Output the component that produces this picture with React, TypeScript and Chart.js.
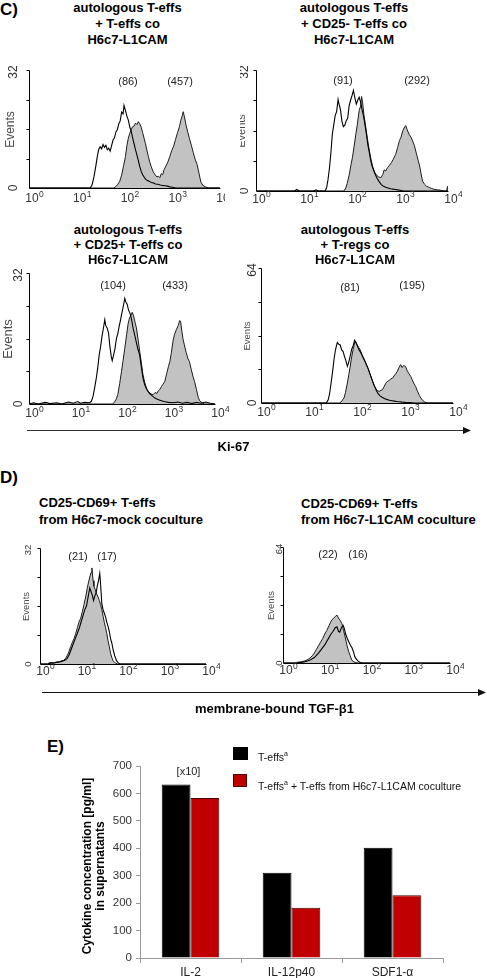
import React, { useEffect, useRef } from "react";
import { Chart, registerables } from "chart.js";

Chart.register(...registerables);

const FONT = "'Liberation Sans', Arial, Helvetica, sans-serif";
Chart.defaults.font.family = FONT;

type Pt = [number, number];

// ---------------- DATA ----------------
// Flow histograms: [log10 fluorescence (decade), events]
const DECADE_TICKS = [0, 1, 2, 3, 4];

const C1_OPEN: Pt[] = [[0,0],[1.28,0],[1.32,0.8],[1.36,3],[1.40,6],[1.43,8.5],[1.46,10.5],[1.49,11.2],[1.52,10.6],[1.55,11.8],[1.58,11],[1.61,11.6],[1.64,10.4],[1.67,10.8],[1.70,10],[1.73,11.5],[1.76,13],[1.79,13.6],[1.82,15.2],[1.85,15.8],[1.88,17.4],[1.91,18.2],[1.94,20.6],[1.97,20.1],[1.99,22.4],[2.02,21],[2.05,19.5],[2.08,18.4],[2.11,16.6],[2.14,15.4],[2.17,13.6],[2.20,12],[2.23,10.4],[2.26,9],[2.29,7.4],[2.32,5.8],[2.35,4.5],[2.38,3.6],[2.41,3],[2.44,2.4],[2.48,2],[2.52,1.8],[2.56,1.5],[2.60,1.4],[2.65,1.1],[2.70,1],[2.75,0.8],[2.80,0.7],[2.85,0.6],[2.90,0.5],[2.95,0.3],[3.0,0.2],[3.08,0],[4,0]];
const C1_FILLED: Pt[] = [[0,0],[1.78,0],[1.82,0.4],[1.86,1],[1.90,1.8],[1.94,3.5],[1.98,6],[2.02,8.5],[2.05,11.5],[2.08,13.5],[2.11,14.8],[2.14,15.8],[2.17,16.6],[2.20,16.8],[2.23,17.6],[2.26,17.2],[2.29,18],[2.32,17.4],[2.35,16.5],[2.38,15],[2.41,13.5],[2.44,12],[2.47,10.2],[2.50,8.5],[2.53,7],[2.56,5.8],[2.60,4.4],[2.64,3.6],[2.68,3],[2.71,3.2],[2.74,2.8],[2.77,3.9],[2.80,3.6],[2.83,5],[2.87,6],[2.91,7.1],[2.95,8.6],[2.99,10.2],[3.03,11.4],[3.07,13.2],[3.11,15],[3.15,16.6],[3.18,18.4],[3.21,19.6],[3.23,20.7],[3.26,19],[3.29,17],[3.32,15.4],[3.36,13.4],[3.40,11.6],[3.44,9.6],[3.48,7.8],[3.52,6.4],[3.56,4],[3.60,1.6],[3.64,0.7],[3.70,0.3],[3.76,0],[4,0]];

const C2_OPEN: Pt[] = [[0,0],[0.8,0],[0.85,0.4],[0.9,0],[1.2,0],[1.25,0.3],[1.3,0],[1.44,0],[1.47,0.8],[1.50,3],[1.53,6],[1.56,10],[1.59,15],[1.62,17.5],[1.65,20],[1.68,21],[1.71,24.2],[1.73,23],[1.76,21.5],[1.79,18.5],[1.82,17],[1.85,17.4],[1.88,18.6],[1.91,19.2],[1.94,22.5],[1.97,24],[2.00,25.2],[2.03,26.6],[2.06,24.6],[2.09,23],[2.12,24],[2.15,24.8],[2.18,23.5],[2.21,21.5],[2.24,19.8],[2.27,17.5],[2.30,15],[2.33,12.2],[2.36,10.3],[2.39,8],[2.42,6.5],[2.45,5.5],[2.49,4.2],[2.53,3.2],[2.57,2.4],[2.61,1.7],[2.65,1.3],[2.70,1],[2.75,0.8],[2.80,0.6],[2.85,0.5],[2.90,0.4],[2.95,0.3],[3.0,0.2],[3.08,0],[4,0]];
const C2_FILLED: Pt[] = [[0,0],[1.83,0],[1.87,0.8],[1.90,2],[1.94,4.2],[1.98,7],[2.01,8.9],[2.04,11.5],[2.08,15],[2.11,17.5],[2.15,21.3],[2.18,22.5],[2.20,25],[2.22,23.5],[2.25,20],[2.28,17.5],[2.32,14],[2.35,11.5],[2.39,8.7],[2.43,6.5],[2.47,5],[2.51,4.2],[2.55,3.8],[2.60,3.5],[2.64,4.3],[2.67,5.6],[2.70,5.3],[2.74,6.2],[2.78,6.8],[2.82,7.5],[2.86,8.4],[2.91,9.7],[2.95,11.5],[2.99,13.4],[3.02,14.2],[3.06,16],[3.10,17],[3.12,17.3],[3.15,16.2],[3.19,15],[3.23,14.2],[3.27,13],[3.30,12],[3.34,10],[3.38,8],[3.41,6.6],[3.44,4.5],[3.47,2.6],[3.51,1.8],[3.55,1.3],[3.60,1],[3.65,0.7],[3.70,0.5],[3.78,0.3],[3.85,0.2],[3.92,0],[3.97,0],[3.99,1.2],[4,0]];

const C3_OPEN: Pt[] = [[0,0],[0.1,0.3],[0.2,0],[0.35,0.4],[0.45,0.1],[0.6,0.3],[0.7,0],[0.85,0.5],[0.95,0.2],[1.05,0.6],[1.1,0.2],[1.2,0.4],[1.3,0.3],[1.34,0.6],[1.38,2],[1.42,4.5],[1.45,6.5],[1.48,9],[1.51,12],[1.54,14],[1.57,16.5],[1.60,18.5],[1.63,20.6],[1.65,19.2],[1.68,18.6],[1.71,17.4],[1.74,14],[1.77,11.5],[1.79,10.6],[1.82,12],[1.85,13.6],[1.88,16],[1.91,17.2],[1.94,19],[1.97,20.6],[2.00,22.4],[2.03,24],[2.06,25.8],[2.08,25],[2.11,24.4],[2.14,23],[2.17,22.2],[2.20,21],[2.24,18.4],[2.27,17],[2.30,15.5],[2.34,13.5],[2.38,12],[2.41,9.5],[2.45,6.4],[2.49,4.6],[2.53,3.6],[2.56,3.1],[2.60,2.5],[2.65,2],[2.70,1.5],[2.75,1.2],[2.80,1],[2.85,0.8],[2.90,0.6],[2.95,0.5],[3.0,0.4],[3.1,0.3],[3.2,0.5],[3.3,0.2],[3.4,0.4],[3.5,0.1],[3.6,0.4],[3.7,0.2],[3.8,0.5],[3.9,0.2],[4,0]];
const C3_FILLED: Pt[] = [[0,0],[1.80,0],[1.84,0.5],[1.88,1.3],[1.91,2.3],[1.95,5],[1.99,8],[2.02,10.4],[2.06,13.6],[2.10,17],[2.13,19.5],[2.16,21],[2.19,21.6],[2.22,22.4],[2.25,21.5],[2.28,20],[2.31,18.6],[2.35,15.5],[2.38,12.9],[2.42,9.8],[2.45,7.2],[2.49,5.2],[2.53,3.8],[2.56,3.1],[2.60,2.6],[2.64,2.4],[2.67,2.3],[2.71,2.8],[2.75,2.6],[2.78,3.2],[2.81,3.5],[2.85,4.3],[2.88,4.8],[2.92,5.5],[2.96,7.4],[3.00,9.2],[3.03,10.4],[3.06,12.4],[3.10,15.6],[3.13,17],[3.17,18.2],[3.21,19.2],[3.24,20.4],[3.26,20.2],[3.29,17.6],[3.31,16],[3.34,14.5],[3.38,12.6],[3.42,11],[3.45,10.4],[3.49,8.4],[3.53,6.6],[3.56,5.5],[3.60,3.6],[3.64,1.6],[3.67,0.8],[3.72,0.3],[3.78,0],[4,0]];

const C4_OPEN: Pt[] = [[0,0],[1.36,0],[1.40,1.5],[1.43,4.5],[1.46,9.5],[1.49,14.5],[1.52,20.5],[1.55,25],[1.57,27],[1.59,28.7],[1.62,27.8],[1.65,27.5],[1.68,25.2],[1.71,24.5],[1.74,22],[1.77,20],[1.80,17.4],[1.83,19.5],[1.86,22.5],[1.89,25.5],[1.92,27.2],[1.95,29.7],[1.98,28.4],[2.01,27],[2.04,25.3],[2.08,23.8],[2.12,21.8],[2.15,20.5],[2.19,18.5],[2.23,16.4],[2.26,14.4],[2.30,12],[2.33,10],[2.36,8.2],[2.40,6],[2.44,4.4],[2.48,3.4],[2.53,2.6],[2.58,2],[2.63,1.6],[2.68,1.3],[2.73,1.1],[2.78,0.9],[2.83,0.7],[2.88,0.6],[2.94,0.4],[3.0,0.3],[3.1,0.2],[3.2,0],[4,0]];
const C4_FILLED: Pt[] = [[0,0],[1.63,0],[1.67,0.5],[1.70,1.5],[1.73,2.4],[1.76,5],[1.80,9.5],[1.83,13.5],[1.86,17.5],[1.89,22],[1.92,25.5],[1.95,28.5],[1.97,29.2],[2.00,27.8],[2.03,26.5],[2.06,25.5],[2.10,23.2],[2.13,21.8],[2.16,20.2],[2.20,18],[2.23,16.4],[2.26,14.5],[2.30,11.8],[2.33,10],[2.36,8.2],[2.40,6.6],[2.43,5.8],[2.46,5.5],[2.50,6],[2.53,6.3],[2.57,8],[2.60,9.4],[2.63,10.2],[2.67,10.6],[2.70,11.4],[2.74,11.8],[2.77,12.8],[2.81,14],[2.84,15],[2.87,16.6],[2.91,18.2],[2.94,16.8],[2.97,17.8],[3.01,17.4],[3.04,15.6],[3.08,14],[3.12,12.6],[3.15,11],[3.19,9],[3.22,7.9],[3.26,5.6],[3.30,3.6],[3.33,2.4],[3.37,1.2],[3.41,0.5],[3.46,0],[4,0]];

const D1_OPEN: Pt[] = [[0,0],[0.2,0],[0.25,0.3],[0.32,0.2],[0.38,0.4],[0.44,0.5],[0.50,0.6],[0.55,0.8],[0.60,1],[0.65,1.5],[0.70,2.5],[0.75,4],[0.80,5.5],[0.85,7],[0.90,8.5],[0.95,10],[1.00,12],[1.04,13.5],[1.08,15],[1.12,16],[1.16,18.5],[1.20,21],[1.23,20],[1.26,19],[1.29,17.5],[1.32,18.8],[1.35,19.5],[1.38,21.5],[1.41,23],[1.44,25],[1.46,22],[1.49,16.5],[1.52,15],[1.55,14],[1.58,13],[1.61,11.5],[1.64,10.4],[1.67,9],[1.70,7],[1.73,5.8],[1.76,4],[1.80,2.3],[1.84,1],[1.88,0.4],[1.92,0],[4,0]];
const D1_FILLED: Pt[] = [[0,0],[0.18,0],[0.22,0.3],[0.28,0.4],[0.34,0.3],[0.40,0.6],[0.46,0.6],[0.52,0.9],[0.57,1],[0.62,1.6],[0.66,2.4],[0.70,3.5],[0.74,4.8],[0.78,6],[0.82,7],[0.86,8.4],[0.90,10],[0.94,11.6],[0.98,12.6],[1.02,14.4],[1.06,16.4],[1.10,18.5],[1.14,21],[1.17,22.6],[1.20,24],[1.23,25.2],[1.25,26.5],[1.28,23],[1.30,21.4],[1.33,20.6],[1.36,19.4],[1.40,18.5],[1.43,17.5],[1.46,16.4],[1.49,15],[1.52,13.2],[1.55,11.5],[1.58,10],[1.61,8.4],[1.64,6.4],[1.67,4.8],[1.70,3],[1.73,1.8],[1.76,0.9],[1.80,0.4],[1.86,0],[4,0]];

const D2_OPEN: Pt[] = [[0,0],[0.33,0],[0.38,0.2],[0.42,0.3],[0.46,0.5],[0.50,0.6],[0.55,0.9],[0.60,1.2],[0.65,1.6],[0.70,2.3],[0.75,3],[0.80,4.2],[0.85,5.5],[0.90,7],[0.95,8.5],[1.00,10],[1.05,12],[1.10,14],[1.15,16],[1.20,17.5],[1.25,19.5],[1.29,20],[1.33,17.5],[1.36,17],[1.40,19.5],[1.44,20.8],[1.47,19],[1.50,16],[1.54,13.5],[1.58,11.5],[1.62,9.5],[1.65,8.5],[1.69,6],[1.72,3.5],[1.76,2],[1.80,1],[1.85,0.3],[1.9,0],[4,0]];
const D2_FILLED: Pt[] = [[0,0],[0.28,0],[0.32,0.3],[0.38,0.5],[0.44,0.7],[0.50,1],[0.55,1.4],[0.60,2],[0.65,2.8],[0.70,4],[0.75,5.5],[0.80,7.5],[0.85,9.5],[0.90,11.5],[0.95,13.5],[1.00,16],[1.05,18],[1.10,20.5],[1.15,23],[1.20,24.5],[1.25,25.5],[1.29,26.5],[1.33,24.8],[1.37,23.5],[1.41,21.7],[1.45,18],[1.49,14.3],[1.53,10],[1.57,6.5],[1.61,4],[1.65,1.5],[1.70,0.6],[1.75,0.2],[1.8,0],[4,0]];

// Cytokine bar chart
const CYTOKINES = ["IL-2", "IL-12p40", "SDF1-\u03b1"];
const TEFFS = [633, 311, 402];
const TEFFS_COCULTURE = [583, 183, 229];
const CYTOKINE_TICKS = [0, 100, 200, 300, 400, 500, 600, 700];

// ---------------- LAYOUT ----------------
type HistSpec = {
  id: string;
  open: Pt[];
  filled: Pt[];
  yMax: number;
  x0: number; x1: number; yTop: number; y0: number;
  clipLeft?: number; clipRight?: number;
  numDx: number; numSize: number;
  evDx: number; evSize: number;
  labDy: number;
  title: string[]; titleX: number; titleYs: number[]; titleAlign: "center" | "left";
  notes: { t: string; x: number; y: number }[];
};

const HISTS: HistSpec[] = [
  { id: "c1", open: C1_OPEN, filled: C1_FILLED, yMax: 32, x0: 29, x1: 220, yTop: 70, y0: 188, clipRight: 225,
    numDx: -16, numSize: 12, evDx: -18.5, evSize: 12, labDy: 10,
    title: ["autologous T-effs", "+ T-effs co", "H6c7-L1CAM"], titleX: 127.5, titleYs: [7, 23, 38.5], titleAlign: "center",
    notes: [{ t: "(86)", x: 128, y: 81 }, { t: "(457)", x: 180, y: 81 }] },
  { id: "c2", open: C2_OPEN, filled: C2_FILLED, yMax: 32, x0: 256, x1: 448, yTop: 70, y0: 191, clipLeft: 240,
    numDx: -12, numSize: 12, evDx: -15, evSize: 11, labDy: 7.5,
    title: ["autologous T-effs", "+ CD25- T-effs co", "H6c7-L1CAM"], titleX: 354, titleYs: [7, 23, 38.5], titleAlign: "center",
    notes: [{ t: "(91)", x: 343, y: 80 }, { t: "(292)", x: 417, y: 80 }] },
  { id: "c3", open: C3_OPEN, filled: C3_FILLED, yMax: 32, x0: 29, x1: 215, yTop: 273, y0: 404,
    numDx: -11, numSize: 12, evDx: -21, evSize: 13, labDy: 9,
    title: ["autologous T-effs", "+ CD25+ T-effs co", "H6c7-L1CAM"], titleX: 128, titleYs: [229, 244, 259], titleAlign: "center",
    notes: [{ t: "(104)", x: 113, y: 285 }, { t: "(433)", x: 175, y: 285 }] },
  { id: "c4", open: C4_OPEN, filled: C4_FILLED, yMax: 64, x0: 261, x1: 453, yTop: 268, y0: 403, clipLeft: 240,
    numDx: -9, numSize: 12, evDx: -14, evSize: 9.5, labDy: 8.5,
    title: ["autologous T-effs", "+ T-regs co", "H6c7-L1CAM"], titleX: 355, titleYs: [229, 244, 259], titleAlign: "center",
    notes: [{ t: "(81)", x: 350, y: 287 }, { t: "(195)", x: 412, y: 285 }] },
  { id: "d1", open: D1_OPEN, filled: D1_FILLED, yMax: 32, x0: 40, x1: 206, yTop: 548, y0: 664,
    numDx: -12, numSize: 9.5, evDx: -14, evSize: 9.5, labDy: 6.5,
    title: ["CD25-CD69+ T-effs", "from H6c7-mock coculture"], titleX: 39, titleYs: [502, 519], titleAlign: "left",
    notes: [{ t: "(21)", x: 78, y: 556 }, { t: "(17)", x: 107, y: 556 }] },
  { id: "d2", open: D2_OPEN, filled: D2_FILLED, yMax: 64, x0: 283, x1: 450, yTop: 547, y0: 663,
    numDx: -4, numSize: 9.5, evDx: -12, evSize: 9.5, labDy: 7,
    title: ["CD25-CD69+ T-effs", "from H6c7-L1CAM coculture"], titleX: 301, titleYs: [503, 519], titleAlign: "left",
    notes: [{ t: "(22)", x: 328, y: 554 }, { t: "(16)", x: 358, y: 554 }] },
];

// ---------------- PLUGIN: CellQuest-style axes ----------------
const flowAxesPlugin = {
  id: "flowAxes",
  afterDatasetsDraw(chart: any, _args: any, o: any) {
    const ctx: CanvasRenderingContext2D = chart.ctx;
    const xs = chart.scales.x;
    const ys = chart.scales.y;
    const xL = Math.round(xs.getPixelForValue(0)) + 0.5;
    const xR = Math.round(xs.getPixelForValue(4)) + 0.5;
    const yB = Math.round(ys.getPixelForValue(0)) + 0.5;
    const yT = Math.round(ys.getPixelForValue(o.yMax)) + 0.5;
    ctx.save();
    ctx.strokeStyle = "#000";
    ctx.lineWidth = 1;
    ctx.beginPath();
    ctx.moveTo(xL, yT);
    ctx.lineTo(xL, yB);
    ctx.lineTo(xR, yB);
    for (const f of [0.25, 0.5, 0.75, 1]) {
      const y = Math.round(ys.getPixelForValue(o.yMax * f)) + 0.5;
      ctx.moveTo(xL - 3, y);
      ctx.lineTo(xL, y);
    }
    ctx.stroke();

    // rotated y labels
    const rot = (txt: string, x: number, y: number, size: number, color: string) => {
      ctx.save();
      ctx.translate(x, y);
      ctx.rotate(-Math.PI / 2);
      ctx.font = `${size}px ${FONT}`;
      ctx.fillStyle = color;
      ctx.textAlign = "center";
      ctx.textBaseline = "middle";
      ctx.fillText(txt, 0, 0);
      ctx.restore();
    };
    rot("0", xL + o.numDx, ys.getPixelForValue(0), o.numSize, "#333");
    rot(String(o.yMax), xL + o.numDx, ys.getPixelForValue(o.yMax) + 2, o.numSize, "#333");
    rot("Events", xL + o.evDx, (yT + yB) / 2, o.evSize, "#4a4a4a");

    // x labels 10^n
    ctx.fillStyle = "#333";
    ctx.textBaseline = "alphabetic";
    for (const d of DECADE_TICKS) {
      const px = xs.getPixelForValue(d) + 3;
      const base = ys.getPixelForValue(0) + o.labDy + 4.3;
      ctx.font = `12px ${FONT}`;
      ctx.textAlign = "center";
      ctx.fillText("10", px, base);
      const w = ctx.measureText("10").width;
      ctx.font = `8.5px ${FONT}`;
      ctx.textAlign = "left";
      ctx.fillText(String(d), px + w / 2 + 0.3, base - 5.5);
    }
    ctx.restore();
  },
};

function Histogram({ spec }: { spec: HistSpec }) {
  const ref = useRef<HTMLCanvasElement>(null);
  const left = Math.max(0, spec.clipLeft ?? spec.x0 - 36);
  const right = spec.clipRight ?? spec.x1 + 14;
  const top = spec.yTop - 12;
  const bottom = spec.y0 + 22;
  const w = right - left;
  const h = bottom - top;
  useEffect(() => {
    if (!ref.current) return;
    const chart = new Chart(ref.current, {
      type: "line",
      data: {
        datasets: [
          {
            data: spec.open.map(([x, y]) => ({ x, y })),
            borderColor: "#000",
            borderWidth: 1.1,
            fill: false,
            pointRadius: 0,
            tension: 0,
            order: 0,
          },
          {
            data: spec.filled.map(([x, y]) => ({ x, y })),
            borderColor: "#1c1c1c",
            borderWidth: 1,
            backgroundColor: "#c2c2c2",
            fill: "origin",
            pointRadius: 0,
            tension: 0,
            order: 1,
          },
        ],
      } as any,
      options: {
        animation: false,
        responsive: false,
        events: [],
        layout: { padding: { left: spec.x0 - left, right: right - spec.x1, top: spec.yTop - top, bottom: bottom - spec.y0 } },
        plugins: {
          legend: { display: false },
          tooltip: { enabled: false },
          flowAxes: { yMax: spec.yMax, numDx: spec.numDx, numSize: spec.numSize, evDx: spec.evDx, evSize: spec.evSize, labDy: spec.labDy },
        } as any,
        scales: {
          x: { type: "linear", min: 0, max: 4, display: false },
          y: { type: "linear", min: 0, max: spec.yMax, display: false },
        },
      },
      plugins: [flowAxesPlugin],
    });
    return () => chart.destroy();
  }, []);
  return (
    <canvas ref={ref} width={w} height={h}
      style={{ position: "absolute", left, top, width: w, height: h }} />
  );
}

function CytokineBars() {
  const ref = useRef<HTMLCanvasElement>(null);
  const left = 40, top = 740, w = 447, h = 238;
  useEffect(() => {
    if (!ref.current) return;
    const chart = new Chart(ref.current, {
      type: "bar",
      data: {
        labels: CYTOKINES,
        datasets: [
          { label: "T-effs", data: TEFFS, backgroundColor: "#000", borderColor: "#000", borderWidth: 1,
            categoryPercentage: 0.57, barPercentage: 1 },
          { label: "T-effs + T-effs from H6c7-L1CAM coculture", data: TEFFS_COCULTURE, backgroundColor: "#c00000",
            borderColor: "#4a0000", borderWidth: 1, categoryPercentage: 0.57, barPercentage: 1 },
        ],
      },
      options: {
        animation: false,
        responsive: false,
        events: [],
        layout: { padding: { left: 0, right: 44, top: 26, bottom: 0 } },
        plugins: { legend: { display: false }, tooltip: { enabled: false } },
        scales: {
          x: {
            grid: { display: true, drawOnChartArea: false, drawTicks: true, tickLength: 5, color: "#9a9a9a", offset: true },
            border: { display: true, color: "#9a9a9a" },
            ticks: { color: "#222", font: { size: 12 }, padding: 2, maxRotation: 0 },
            afterFit: (s: any) => { s.height = 20; },
          },
          y: {
            min: 0, max: 700,
            afterBuildTicks: (s: any) => { s.ticks = CYTOKINE_TICKS.map((v) => ({ value: v })); },
            grid: { display: true, drawOnChartArea: false, drawTicks: true, tickLength: 4, color: "#9a9a9a" },
            border: { display: true, color: "#9a9a9a" },
            ticks: { color: "#333", font: { size: 11.5 }, padding: 4 },
            afterFit: (s: any) => { s.width = 100; },
          },
        },
      } as any,
    });
    return () => chart.destroy();
  }, []);
  return (
    <canvas ref={ref} width={w} height={h}
      style={{ position: "absolute", left, top, width: w, height: h }} />
  );
}

type TxtProps = {
  x: number; y: number; size: number; bold?: boolean; align?: "center" | "left";
  color?: string; rotate?: boolean; family?: string; children: React.ReactNode;
};
function Txt({ x, y, size, bold, align = "center", color = "#000", rotate, family, children }: TxtProps) {
  const tx = align === "center" ? "-50%" : "0";
  return (
    <div style={{
      position: "absolute", left: x, top: y, whiteSpace: "nowrap", lineHeight: 1,
      fontFamily: family ?? FONT, fontSize: size, fontWeight: bold ? 700 : 400, color,
      transform: rotate ? "translate(-50%,-50%) rotate(-90deg)" : `translate(${tx},-50%)`,
    }}>{children}</div>
  );
}

export default function App() {
  return (
    <div style={{ position: "absolute", left: 0, top: 0, width: 487, height: 978, background: "#fff", overflow: "hidden", fontFamily: FONT }}>
      {HISTS.map((s) => <Histogram key={s.id} spec={s} />)}
      {HISTS.map((s) => (
        <React.Fragment key={s.id + "t"}>
          {s.title.map((line, i) => (
            <Txt key={i} x={s.titleX} y={s.titleYs[i]} size={13} bold align={s.titleAlign}>{line}</Txt>
          ))}
          {s.notes.map((n, i) => (
            <Txt key={"n" + i} x={n.x} y={n.y} size={11} color="#222">{n.t}</Txt>
          ))}
        </React.Fragment>
      ))}

      <Txt x={0} y={9} size={17} bold align="left">C)</Txt>
      <Txt x={0} y={477} size={17} bold align="left">D)</Txt>
      <Txt x={47} y={746} size={17} bold align="left">E)</Txt>

      <svg width={487} height={978} style={{ position: "absolute", left: 0, top: 0 }}>
        <line x1={27} y1={430.5} x2={465} y2={430.5} stroke="#333" strokeWidth={1.2} />
        <polygon points="463,427 471,430.5 463,434" fill="#111" />
        <line x1={42} y1={692.5} x2={480} y2={692.5} stroke="#111" strokeWidth={1.1} />
        <polygon points="478,689 486,692.5 478,696" fill="#111" />
      </svg>
      <Txt x={233.5} y={446} size={13} bold>Ki-67</Txt>
      <Txt x={195} y={707.5} size={13} bold align="left">membrane-bound TGF-{"\u03b2"}1</Txt>

      <CytokineBars />
      <Txt x={87} y={866} size={12} bold rotate>Cytokine concentration [pg/ml]</Txt>
      <Txt x={99.5} y={866} size={12} bold rotate>in supernatants</Txt>
      <Txt x={188.5} y={770.5} size={11} color="#222">[x10]</Txt>

      <div style={{ position: "absolute", left: 233, top: 747, width: 15, height: 13, background: "#000" }} />
      <div style={{ position: "absolute", left: 233, top: 773.5, width: 14, height: 13, background: "#c00000", border: "1px solid #4a0000", boxSizing: "border-box" }} />
      <Txt x={258} y={756} size={10.5} align="left" color="#111" family={"'Liberation Sans Narrow', 'Arial Narrow', " + FONT}>
        T-effs<sup style={{ fontSize: 7 }}>a</sup>
      </Txt>
      <Txt x={258} y={784.5} size={10.5} align="left" color="#111" family={"'Liberation Sans Narrow', 'Arial Narrow', " + FONT}>
        T-effs<sup style={{ fontSize: 7 }}>a</sup> + T-effs from H6c7-L1CAM coculture
      </Txt>
    </div>
  );
}
